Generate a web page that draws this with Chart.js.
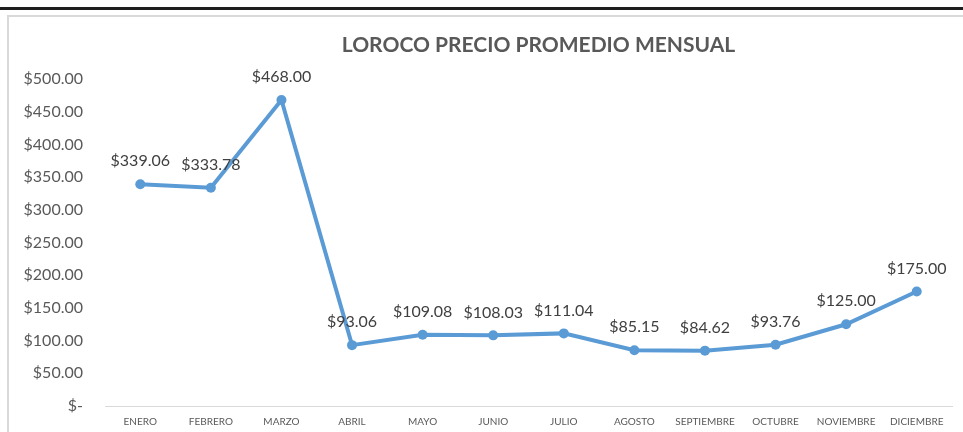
<!DOCTYPE html>
<html>
<head>
<meta charset="utf-8">
<script src="https://cdn.jsdelivr.net/npm/chart.js@4"></script>
<style>
  html, body { margin: 0; padding: 0; background: #fff; overflow: hidden; }
  canvas { display: block; }
</style>
</head>
<body>
<canvas id="chart" width="963" height="432"></canvas>
<script>
var titulo = 'LOROCO PRECIO PROMEDIO MENSUAL';
var meses = ['ENERO', 'FEBRERO', 'MARZO', 'ABRIL', 'MAYO', 'JUNIO', 'JULIO', 'AGOSTO', 'SEPTIEMBRE', 'OCTUBRE', 'NOVIEMBRE', 'DICIEMBRE'];
var precios = [339.06, 333.78, 468.00, 93.06, 109.08, 108.03, 111.04, 85.15, 84.62, 93.76, 125.00, 175.00];

function dinero(v) {
  return v === 0 ? '$-' : '$' + v.toFixed(2);
}

document.addEventListener('DOMContentLoaded', function() {
  // marco del grafico y titulo
  var marco = {
    id: 'marco',
    beforeDraw: function(chart) {
      var c = chart.ctx;
      c.save();
      c.fillStyle = '#fff';
      c.fillRect(0, 0, chart.width, chart.height);
      c.fillStyle = '#1e1e1e';
      c.fillRect(0, 7, chart.width, 3);
      c.fillStyle = '#d9d9d9';
      c.fillRect(8, 15, chart.width - 8, 2);
      c.fillRect(7, 15, 2, chart.height - 15);
      c.restore();
    },
    afterDraw: function(chart) {
      var c = chart.ctx;
      var a = chart.chartArea;
      c.save();
      c.font = 'bold 21px Lato';
      c.fillStyle = '#595959';
      c.textAlign = 'center';
      c.textBaseline = 'middle';
      c.fillText(titulo, (a.left + a.right) / 2 + 10, 45);
      c.restore();
    }
  };

  // etiquetas de datos encima de cada punto
  var etiquetas = {
    id: 'etiquetas',
    afterDatasetsDraw: function(chart) {
      var c = chart.ctx;
      var meta = chart.getDatasetMeta(0);
      c.save();
      c.font = '16px Lato';
      c.fillStyle = '#404040';
      c.textAlign = 'center';
      c.textBaseline = 'middle';
      meta.data.forEach(function(p, i) {
        c.fillText(dinero(precios[i]), p.x, p.y - 23);
      });
      c.restore();
    }
  };

  var ctx = document.getElementById('chart').getContext('2d');
  new Chart(ctx, {
    type: 'line',
    data: {
      labels: meses,
      datasets: [{
        label: 'Precio',
        data: precios,
        borderColor: '#5b9bd5',
        backgroundColor: '#5b9bd5',
        borderWidth: 4,
        pointRadius: 5,
        pointBorderWidth: 0,
        pointBackgroundColor: '#5b9bd5',
        tension: 0,
        fill: false
      }]
    },
    options: {
      responsive: false,
      animation: false,
      layout: { padding: { top: 79, right: 11, left: 0, bottom: 0 } },
      plugins: {
        legend: { display: false },
        title: { display: false },
        tooltip: { enabled: false }
      },
      scales: {
        x: {
          offset: true,
          grid: { display: false, drawTicks: false },
          border: { display: true, color: '#d9d9d9', width: 1 },
          ticks: {
            color: '#595959',
            font: { family: 'Lato', size: 10 },
            padding: 10,
            maxRotation: 0,
            autoSkip: false
          },
          afterFit: function(s) { s.height = 26; }
        },
        y: {
          min: 0,
          max: 500,
          grid: { display: false, drawTicks: false },
          border: { display: false },
          ticks: {
            stepSize: 50,
            color: '#595959',
            font: { family: 'Lato', size: 16 },
            padding: 22,
            callback: function(value) { return dinero(value); }
          },
          afterFit: function(s) {
            s.width = 105;
            // la separacion de las etiquetas no debe recortar el area
            s.paddingTop = 0;
            s.paddingBottom = 0;
          }
        }
      }
    },
    plugins: [marco, etiquetas]
  });
});
</script>
</body>
</html>
